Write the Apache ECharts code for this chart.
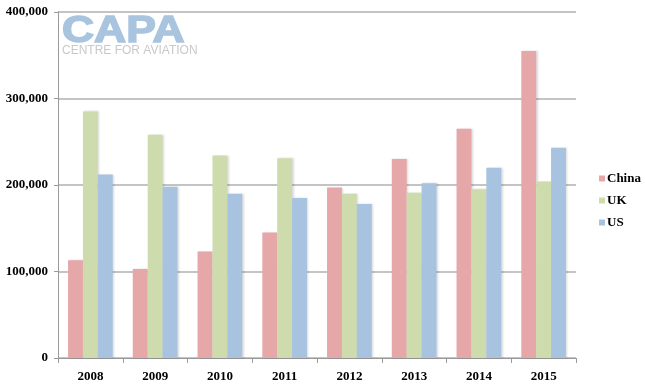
<!DOCTYPE html>
<html>
<head>
<meta charset="utf-8">
<script src="https://cdn.jsdelivr.net/npm/echarts@6/dist/echarts.min.js"></script>
<style>html,body{margin:0;padding:0;background:#fff}#c{width:645px;height:387px}</style>
</head>
<body>
<div id="c"></div>
<script>
const categories = ['2008','2009','2010','2011','2012','2013','2014','2015'];
const china = [113000, 103000, 123000, 145000, 197000, 230000, 265000, 355000];
const uk = [285000, 258000, 234000, 231000, 190000, 191000, 195000, 204000];
const us = [212000, 198000, 190000, 185000, 178000, 202000, 220000, 243000];
const seriesNames = ['China','UK','US'];
const colors = ['#e6a7a8','#cedcad','#a8c3df'];

const font = '"Liberation Serif", "Times New Roman", serif';
const chart = echarts.init(document.getElementById('c'), null, {renderer:'canvas'});
const barStyle = (c) => ({color:c, shadowColor:'rgba(0,0,0,0.15)', shadowBlur:2, shadowOffsetX:1.5, shadowOffsetY:0});
chart.setOption({
  animation:false,
  color:colors,
  grid:{left:58, right:69, top:12, bottom:29, containLabel:false},
  legend:{
    orient:'vertical', left:594, top:167, itemWidth:6, itemHeight:6, itemGap:9,
    icon:'rect', data:seriesNames,
    textStyle:{fontFamily:font, fontWeight:'bold', fontSize:13, color:'#000', padding:[3,0,0,-3]}
  },
  xAxis:{
    type:'category', data:categories,
    axisLine:{lineStyle:{color:'#9a9a9a', width:1}},
    axisTick:{show:true, length:5, lineStyle:{color:'#9a9a9a'}},
    axisLabel:{fontFamily:font, fontWeight:'bold', fontSize:13, color:'#000', margin:12}
  },
  yAxis:{
    type:'value', min:0, max:400000, interval:100000,
    axisLine:{show:true, lineStyle:{color:'#9a9a9a', width:1}},
    axisTick:{show:true, length:4, lineStyle:{color:'#9a9a9a'}},
    splitLine:{lineStyle:{color:'#c4c4c4', width:2}},
    axisLabel:{fontFamily:font, fontWeight:'bold', fontSize:13, color:'#000', margin:10,
      formatter:(v)=>v.toLocaleString('en-US')}
  },
  graphic:[
    {type:'text', x:62, y:32, scaleX:1.2, z:100,
     style:{text:'CAPA', font:'bold 37px "Liberation Sans", Arial, sans-serif', fill:'#a9c4de', stroke:'#a9c4de', lineWidth:1.5, verticalAlign:'middle', align:'left'}},
    {type:'text', x:62, y:51, z:100,
     style:{text:'CENTRE FOR AVIATION', font:'12px "Liberation Sans", Arial, sans-serif', fill:'#c9c9c9', verticalAlign:'middle', align:'left'}}
  ],
  series:[
    {name:'China', type:'bar', data:china, barGap:'0%', barCategoryGap:'31%', itemStyle:barStyle(colors[0])},
    {name:'UK', type:'bar', data:uk, itemStyle:barStyle(colors[1])},
    {name:'US', type:'bar', data:us, itemStyle:barStyle(colors[2])}
  ]
});
</script>
</body>
</html>
